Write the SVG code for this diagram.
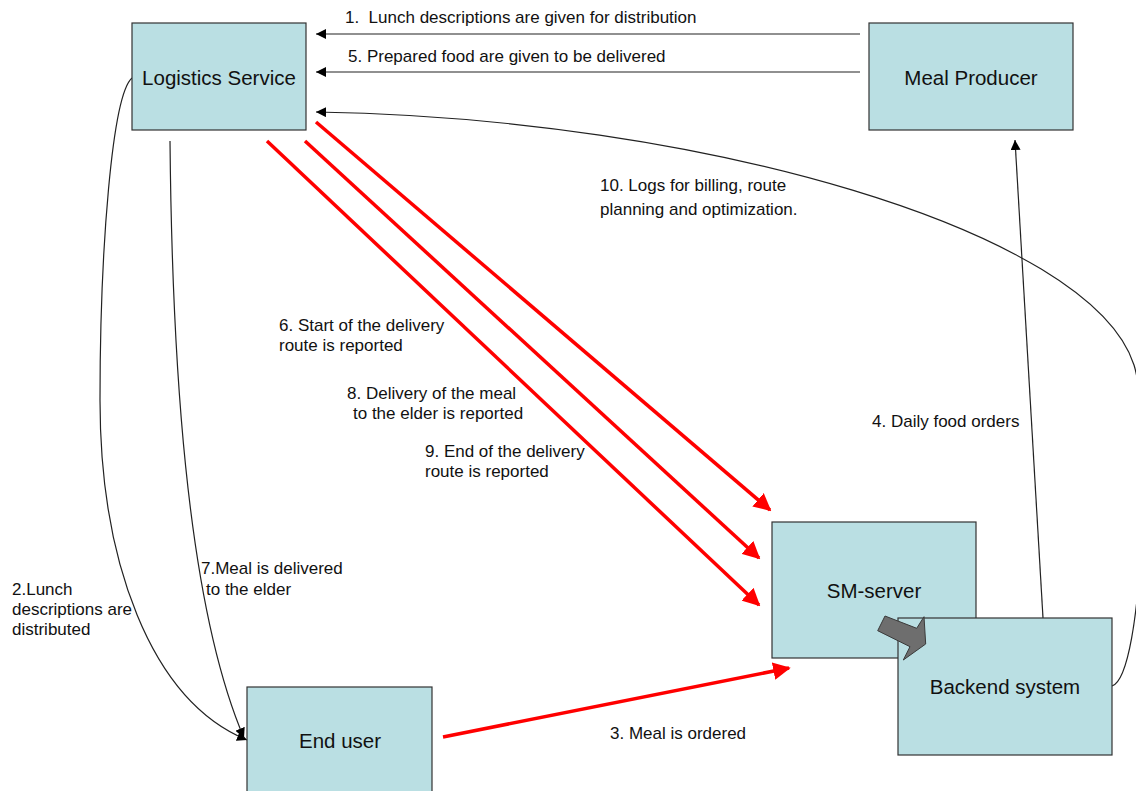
<svg xmlns="http://www.w3.org/2000/svg" width="1136" height="791" viewBox="0 0 1136 791">
<style>
.box{fill:#badfe3;stroke:#333;stroke-width:1.2}
.nl{font-family:"Liberation Sans",Arial,sans-serif;font-size:20.5px;fill:#111;text-anchor:middle}
.lb{font-family:"Liberation Sans",Arial,sans-serif;font-size:17px;fill:#111}
.bl{fill:none;stroke:#222;stroke-width:1.2}
.rd{fill:none;stroke:#ff0000;stroke-width:3.5}
</style>
<defs>
<marker id="ab" viewBox="0 0 10 10" refX="10" refY="5" markerWidth="10" markerHeight="10" markerUnits="userSpaceOnUse" orient="auto"><path d="M0,0 L10,5 L0,10 z" fill="#000"/></marker>
<marker id="ar" viewBox="0 0 10 10" refX="9" refY="5" markerWidth="5" markerHeight="5" orient="auto"><path d="M0,0 L10,5 L0,10 z" fill="#ff0000"/></marker>
</defs>
<rect width="1136" height="791" fill="#fff"/>
<g id="connectors">
<line class="bl" x1="860" y1="34" x2="316" y2="34" marker-end="url(#ab)"/>
<line class="bl" x1="860" y1="72" x2="316" y2="72" marker-end="url(#ab)"/>
<path class="bl" d="M1112,686 C1145,675 1150,414 1134,365 C1090,230 700,118 316,112" marker-end="url(#ab)"/>
<path class="bl" d="M132,78 C112,95 100,250 100,400 C100,560 150,700 247,740" marker-end="url(#ab)"/>
<path class="bl" d="M170,141 C172,350 185,600 244,738" marker-end="url(#ab)"/>
<line class="bl" x1="1043" y1="618" x2="1015" y2="140" marker-end="url(#ab)"/>
<line class="rd" x1="316" y1="122" x2="770" y2="510" marker-end="url(#ar)"/>
<line class="rd" x1="305" y1="141" x2="759" y2="558" marker-end="url(#ar)"/>
<line class="rd" x1="267" y1="141" x2="759" y2="605" marker-end="url(#ar)"/>
<line class="rd" x1="443" y1="737" x2="789" y2="668" marker-end="url(#ar)"/>
</g>
<g id="logistics"><rect class="box" x="132" y="23" width="174" height="107"/><text class="nl" x="219" y="85">Logistics Service</text></g>
<g id="meal-producer"><rect class="box" x="869" y="23" width="204" height="107"/><text class="nl" x="971" y="85">Meal Producer</text></g>
<g id="end-user"><rect class="box" x="247" y="687" width="185" height="110"/><text class="nl" x="340" y="748">End user</text></g>
<g id="sm-server"><rect class="box" x="772" y="522" width="204" height="136"/><text class="nl" x="874" y="598">SM-server</text></g>
<g id="backend"><rect class="box" x="898" y="618" width="214" height="137"/><text class="nl" x="1005" y="694">Backend system</text></g>
<g id="block-arrow"><polygon points="877.7,630.7 885,616 916.7,628.3 924,616.7 925.7,644 903.3,660 910,646.7" fill="#6e6e6e" stroke="#3a3a3a" stroke-width="1"/></g>
<g id="labels">
<text class="lb" x="345" y="23" xml:space="preserve">1.  Lunch descriptions are given for distribution</text>
<text class="lb" x="348" y="62">5. Prepared food are given to be delivered</text>
<text class="lb" x="600" y="191">10. Logs for billing, route</text>
<text class="lb" x="600" y="215">planning and optimization.</text>
<text class="lb" x="279" y="331">6. Start of the delivery</text>
<text class="lb" x="279" y="351">route is reported</text>
<text class="lb" x="347" y="399">8. Delivery of the meal</text>
<text class="lb" x="353" y="419">to the elder is reported</text>
<text class="lb" x="425" y="457">9. End of the delivery</text>
<text class="lb" x="425" y="477">route is reported</text>
<text class="lb" x="872" y="427">4. Daily food orders</text>
<text class="lb" x="12" y="595">2.Lunch</text>
<text class="lb" x="12" y="615">descriptions are</text>
<text class="lb" x="12" y="635">distributed</text>
<text class="lb" x="201" y="574">7.Meal is delivered</text>
<text class="lb" x="206" y="595">to the elder</text>
<text class="lb" x="610" y="739">3. Meal is ordered</text>
</g>
</svg>
